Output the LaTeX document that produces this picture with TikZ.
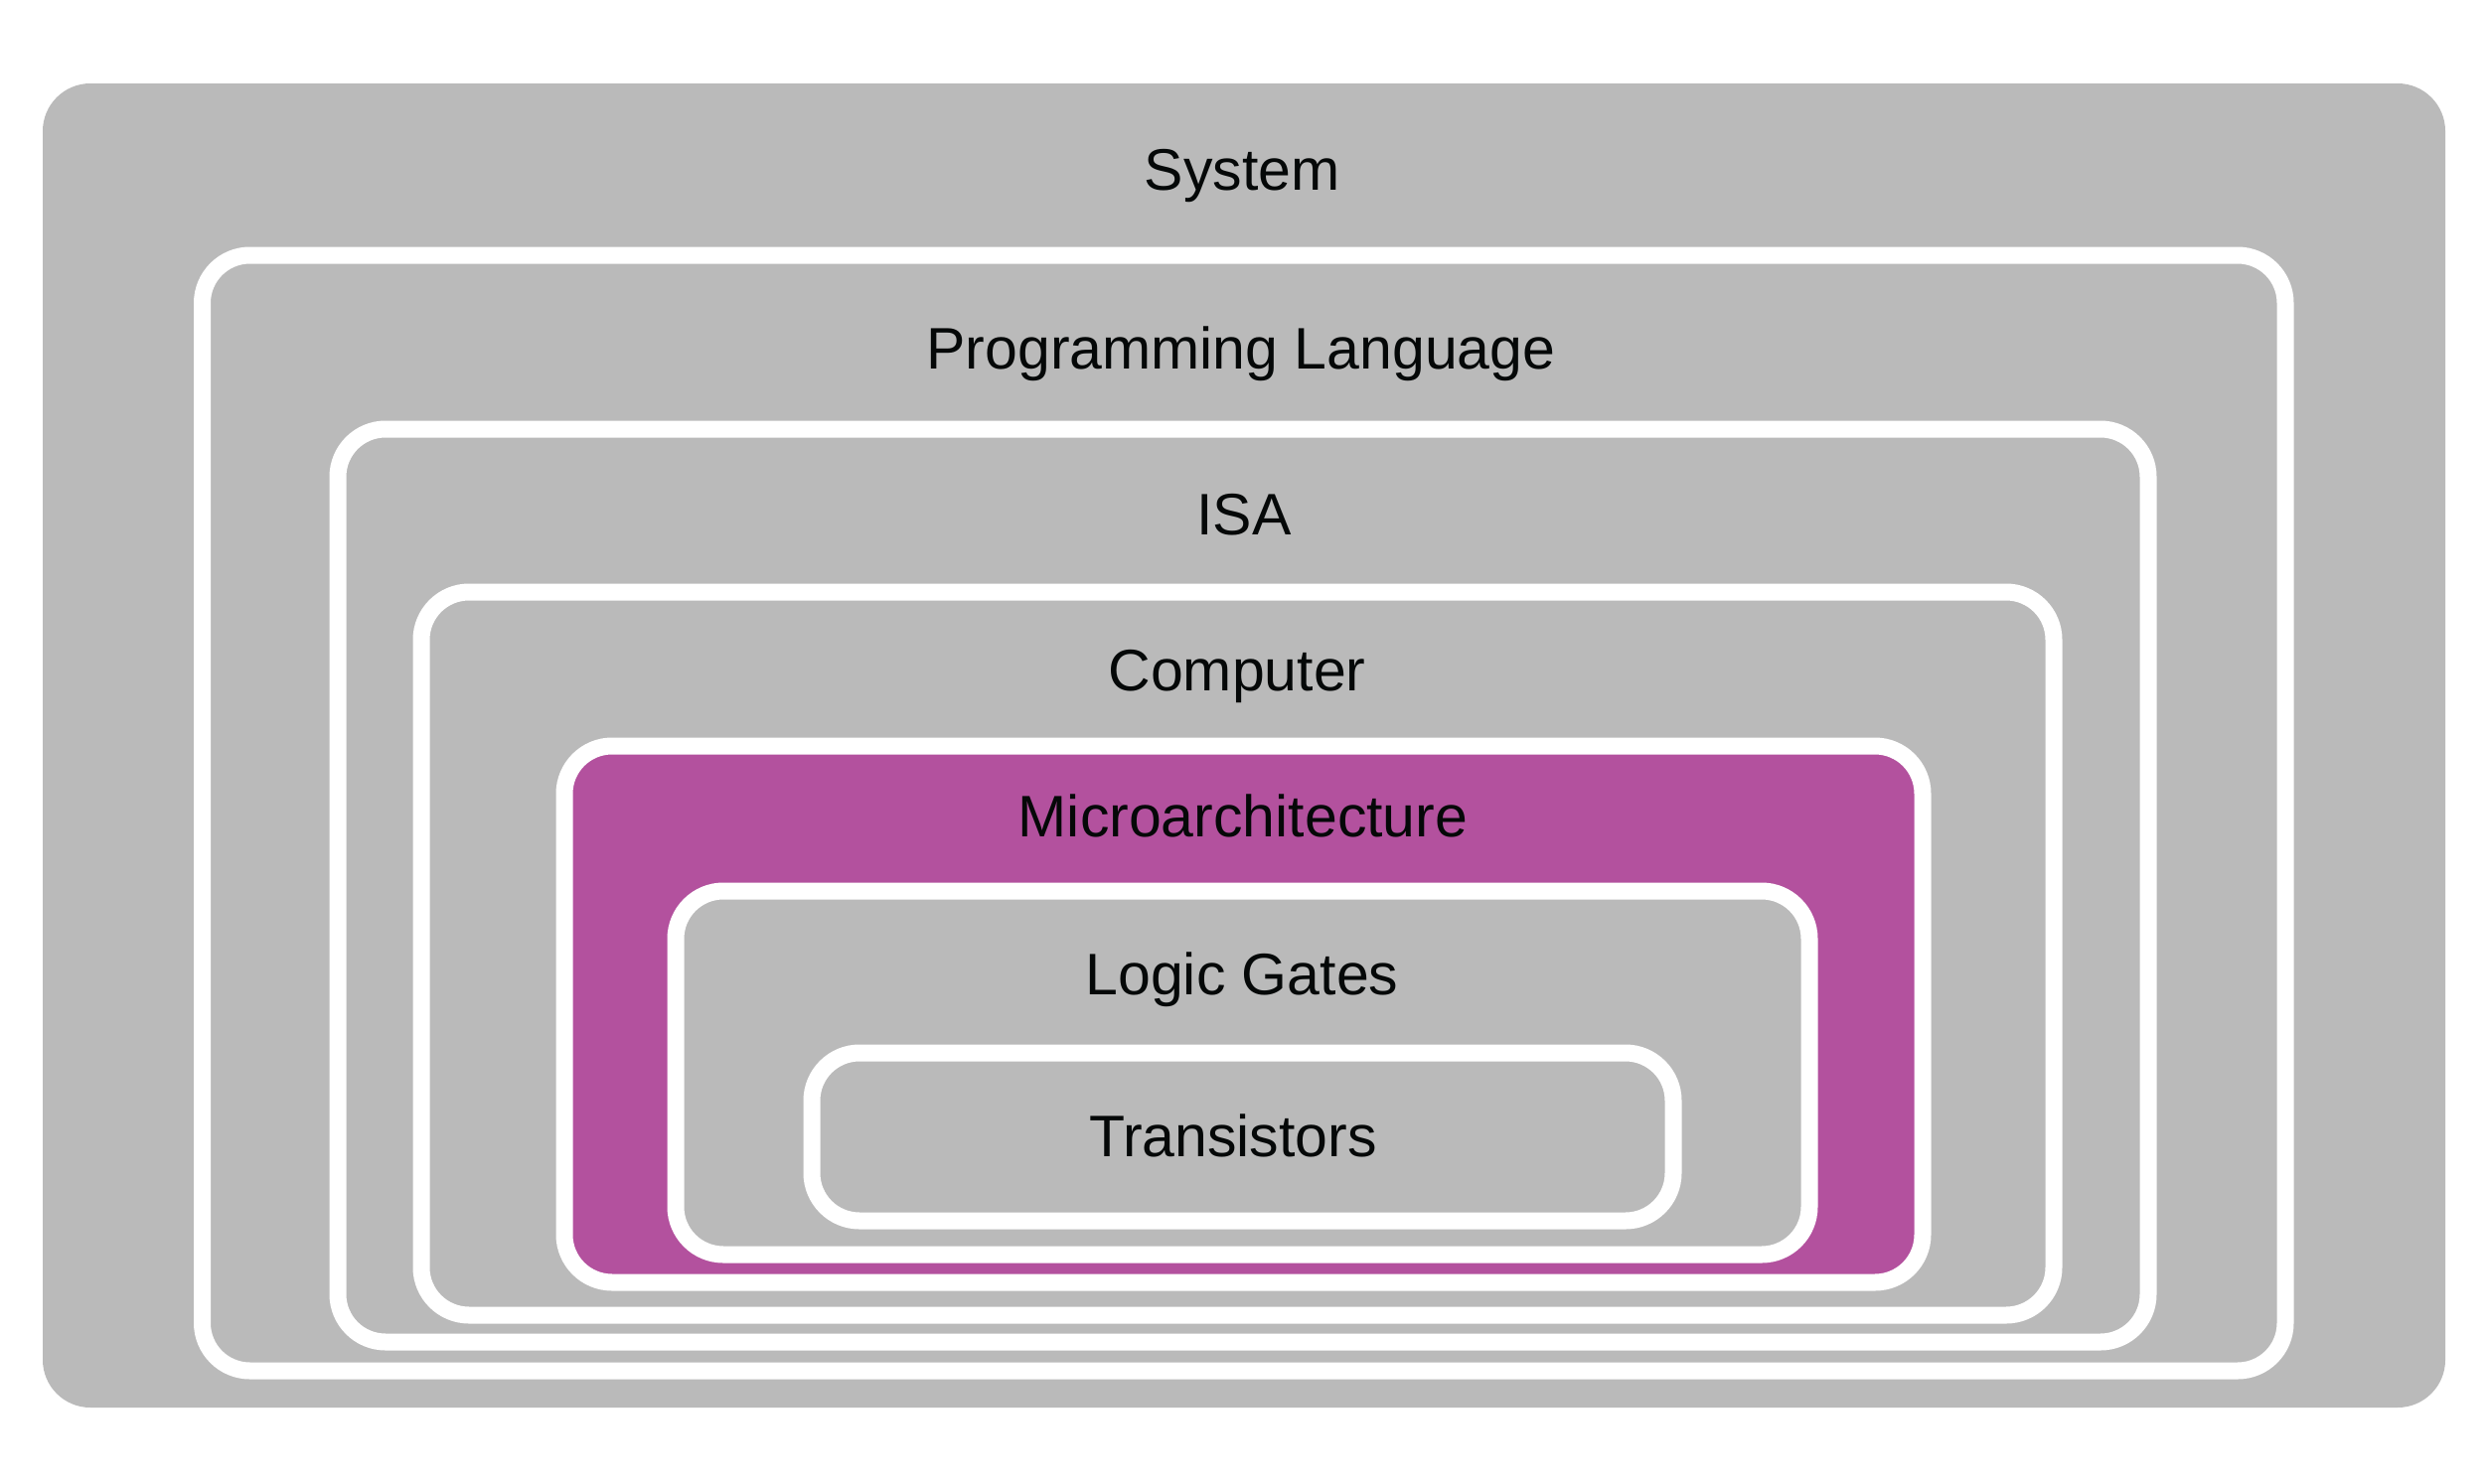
\documentclass[tikz,border=0pt]{standalone}
\usepackage{fontspec}
\setmainfont{Liberation Sans}
\definecolor{layergray}{HTML}{BABABA}
\definecolor{layerpurple}{HTML}{B3519E}
\definecolor{labelink}{HTML}{050808}
\begin{document}
\begin{tikzpicture}[x=1pt,y=-1pt,
  layer/.style={fill=layergray,draw=white,line width=17pt,rounded corners=48pt},
  hilayer/.style={layer,fill=layerpurple},
  label/.style={anchor=base,inner sep=0pt,text=labelink,font=\fontsize{59}{62}\selectfont}]
  % canvas
  \path[fill=white] (0,0) rectangle (2504,1494);
  \useasboundingbox (0,0) rectangle (2504,1494);
  % outermost layer: filled only
  \fill[layergray,rounded corners=48pt] (43,84) rectangle (2461,1417);
  % nested layers
  \draw[layer]   (203.5,257) rectangle (2300,1380);
  \draw[layer]   (340,432)   rectangle (2162,1351);
  \draw[layer]   (424,596)   rectangle (2067,1324);
  \draw[hilayer] (568,751)   rectangle (1935,1291);
  \draw[layer]   (680,897)   rectangle (1821,1263);
  \draw[layer]   (817,1060)  rectangle (1684,1229);
  % layer labels
  \node[label] (system)  at (1250,191)  {System};
  \node[label] (proglang) at (1249,371) {Programming Language};
  \node[label] (isa)     at (1252,538)  {ISA};
  \node[label] (comp)    at (1245,695)  {Computer};
  \node[label] (micro)   at (1251,842)  {Microarchitecture};
  \node[label] (gates)   at (1250,1001) {Logic Gates};
  \node[label] (trans)   at (1241,1164) {Transistors};
\end{tikzpicture}
\end{document}
